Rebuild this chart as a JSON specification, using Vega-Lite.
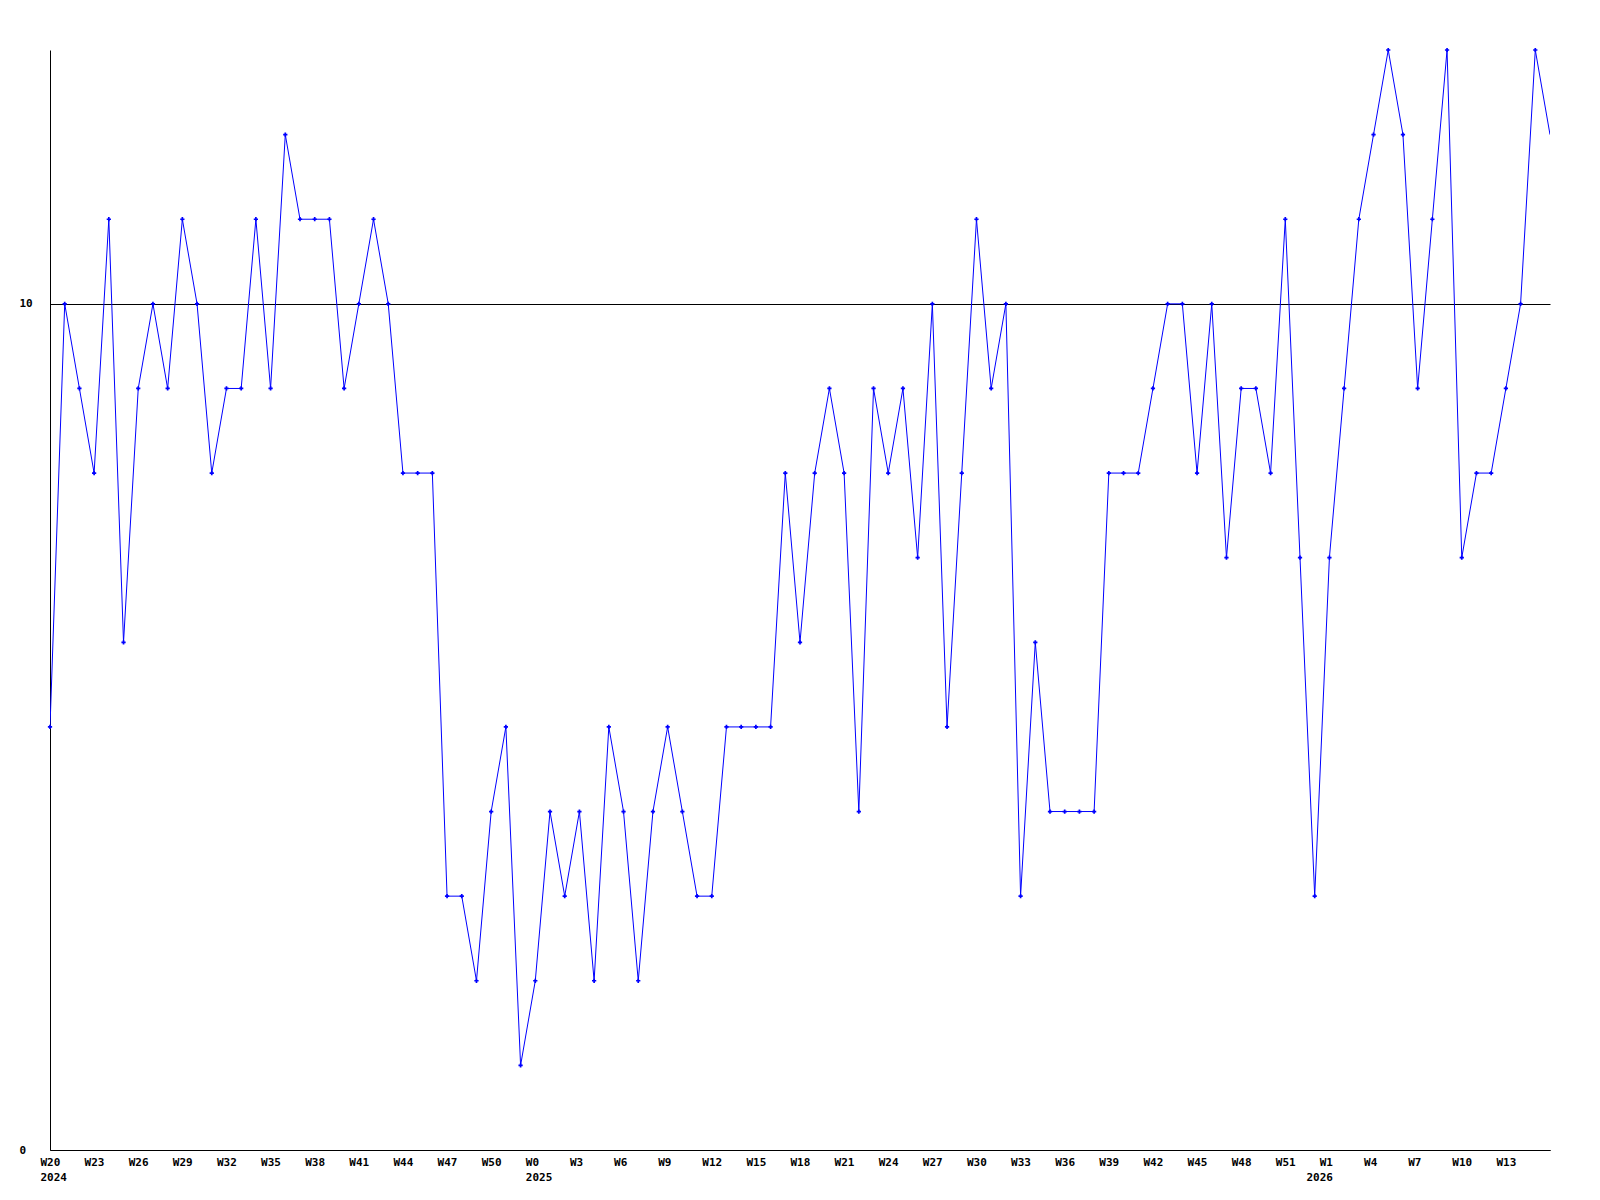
{
  "$schema": "https://vega.github.io/schema/vega-lite/v6.json",
  "width": 1500,
  "height": 1100,
  "autosize": {"type": "none"},
  "padding": {"left": 50, "top": 50, "right": 50, "bottom": 50},
  "background": "white",
  "config": {"view": {"stroke": null}},
  "data": {"values": [
    {"week": 0, "value": 5}, {"week": 1, "value": 10}, {"week": 2, "value": 9}, {"week": 3, "value": 8},
    {"week": 4, "value": 11}, {"week": 5, "value": 6}, {"week": 6, "value": 9}, {"week": 7, "value": 10},
    {"week": 8, "value": 9}, {"week": 9, "value": 11}, {"week": 10, "value": 10}, {"week": 11, "value": 8},
    {"week": 12, "value": 9}, {"week": 13, "value": 9}, {"week": 14, "value": 11}, {"week": 15, "value": 9},
    {"week": 16, "value": 12}, {"week": 17, "value": 11}, {"week": 18, "value": 11}, {"week": 19, "value": 11},
    {"week": 20, "value": 9}, {"week": 21, "value": 10}, {"week": 22, "value": 11}, {"week": 23, "value": 10},
    {"week": 24, "value": 8}, {"week": 25, "value": 8}, {"week": 26, "value": 8}, {"week": 27, "value": 3},
    {"week": 28, "value": 3}, {"week": 29, "value": 2}, {"week": 30, "value": 4}, {"week": 31, "value": 5},
    {"week": 32, "value": 1}, {"week": 33, "value": 2}, {"week": 34, "value": 4}, {"week": 35, "value": 3},
    {"week": 36, "value": 4}, {"week": 37, "value": 2}, {"week": 38, "value": 5}, {"week": 39, "value": 4},
    {"week": 40, "value": 2}, {"week": 41, "value": 4}, {"week": 42, "value": 5}, {"week": 43, "value": 4},
    {"week": 44, "value": 3}, {"week": 45, "value": 3}, {"week": 46, "value": 5}, {"week": 47, "value": 5},
    {"week": 48, "value": 5}, {"week": 49, "value": 5}, {"week": 50, "value": 8}, {"week": 51, "value": 6},
    {"week": 52, "value": 8}, {"week": 53, "value": 9}, {"week": 54, "value": 8}, {"week": 55, "value": 4},
    {"week": 56, "value": 9}, {"week": 57, "value": 8}, {"week": 58, "value": 9}, {"week": 59, "value": 7},
    {"week": 60, "value": 10}, {"week": 61, "value": 5}, {"week": 62, "value": 8}, {"week": 63, "value": 11},
    {"week": 64, "value": 9}, {"week": 65, "value": 10}, {"week": 66, "value": 3}, {"week": 67, "value": 6},
    {"week": 68, "value": 4}, {"week": 69, "value": 4}, {"week": 70, "value": 4}, {"week": 71, "value": 4},
    {"week": 72, "value": 8}, {"week": 73, "value": 8}, {"week": 74, "value": 8}, {"week": 75, "value": 9},
    {"week": 76, "value": 10}, {"week": 77, "value": 10}, {"week": 78, "value": 8}, {"week": 79, "value": 10},
    {"week": 80, "value": 7}, {"week": 81, "value": 9}, {"week": 82, "value": 9}, {"week": 83, "value": 8},
    {"week": 84, "value": 11}, {"week": 85, "value": 7}, {"week": 86, "value": 3}, {"week": 87, "value": 7},
    {"week": 88, "value": 9}, {"week": 89, "value": 11}, {"week": 90, "value": 12}, {"week": 91, "value": 13},
    {"week": 92, "value": 12}, {"week": 93, "value": 9}, {"week": 94, "value": 11}, {"week": 95, "value": 13},
    {"week": 96, "value": 7}, {"week": 97, "value": 8}, {"week": 98, "value": 8}, {"week": 99, "value": 9},
    {"week": 100, "value": 10}, {"week": 101, "value": 13}, {"week": 102, "value": 12}
  ]},
  "encoding": {
    "x": {
      "field": "week", "type": "quantitative",
      "scale": {"domain": [0, 102], "nice": false, "zero": false},
      "axis": {
        "title": null,
        "values": [0, 3, 6, 9, 12, 15, 18, 21, 24, 27, 30, 33, 36, 39, 42, 45, 48, 51, 54, 57, 60, 63, 66, 69, 72, 75, 78, 81, 84, 87, 90, 93, 96, 99],
        "labelExpr": "[['W20','2024'],'W23','W26','W29','W32','W35','W38','W41','W44','W47','W50',['W0','2025'],'W3','W6','W9','W12','W15','W18','W21','W24','W27','W30','W33','W36','W39','W42','W45','W48','W51',['W1','2026'],'W4','W7','W10','W13'][round(datum.value/3)]",
        "grid": false,
        "ticks": false,
        "domainColor": "black",
        "domainWidth": 1,
        "labelFont": "DejaVu Sans Mono",
        "labelFontWeight": "bold",
        "labelFontSize": 11,
        "labelColor": "black",
        "labelPadding": 6,
        "labelLineHeight": 15,
        "labelAlign": {"condition": {"test": "datum.value == 87", "value": "right"}, "value": "left"},
        "labelOffset": {"condition": {"test": "datum.value == 87", "value": 3}, "value": -10},
        "labelOverlap": false,
        "labelFlush": false,
        "labelBound": false
      }
    },
    "y": {
      "field": "value", "type": "quantitative",
      "scale": {"domain": [0, 13], "nice": false, "zero": true},
      "axis": {
        "title": null,
        "values": [0, 10],
        "grid": true,
        "gridColor": "black",
        "gridOpacity": 1,
        "gridWidth": 1,
        "ticks": false,
        "domainColor": "black",
        "domainWidth": 1,
        "labelFont": "DejaVu Sans Mono",
        "labelFontWeight": "bold",
        "labelFontSize": 11,
        "labelColor": "black",
        "labelAlign": "left",
        "labelPadding": 31,
        "labelBaseline": "middle",
        "labelFlush": false,
        "labelOverlap": false
      }
    }
  },
  "layer": [
    {"mark": {"type": "line", "color": "#0000ff", "strokeWidth": 1, "clip": true}},
    {
      "transform": [{"filter": "datum.week < 102"}],
      "mark": {"type": "point", "shape": "cross", "size": 18, "filled": true, "color": "#0000ff", "opacity": 1}
    }
  ]
}
